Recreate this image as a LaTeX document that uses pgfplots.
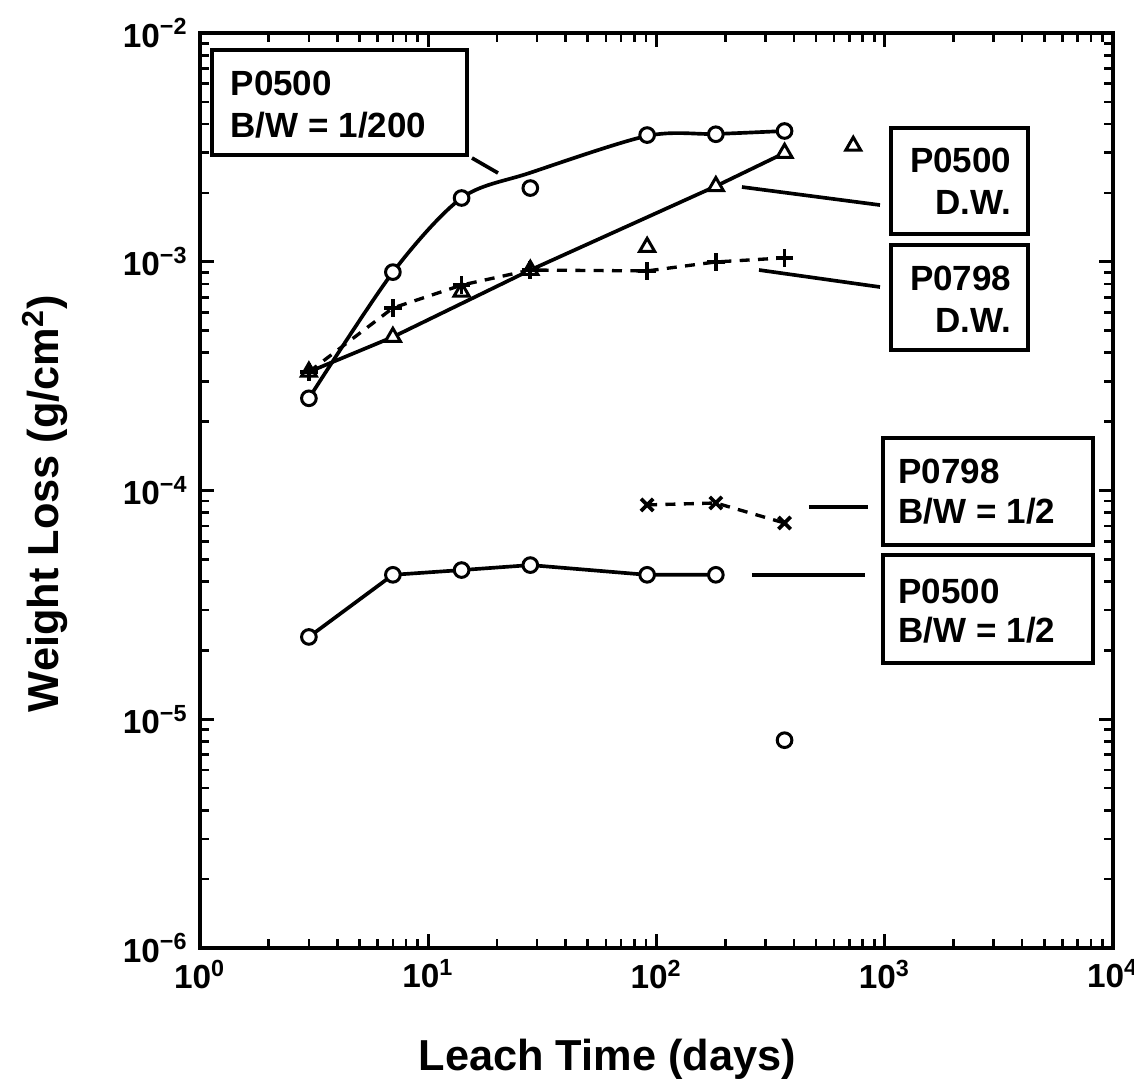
\documentclass[border=0pt]{standalone}
\usepackage{fontspec}
\setmainfont{Liberation Sans}
\usepackage{pgfplots}
\pgfplotsset{compat=1.18}

\begin{document}
\begin{tikzpicture}
\useasboundingbox (-60pt,-41.4pt) rectangle (280.2pt,284.4pt);
\begin{axis}[
    at={(0,0)}, anchor=south west,
    scale only axis,
    width=273.9pt, height=274.5pt,
    xmode=log, ymode=log,
    xmin=1, xmax=1e4, ymin=1e-6, ymax=1e-2,
    xtick={1,10,100,1000,10000},
    xticklabels={10\textsuperscript{0},10\textsuperscript{1},10\textsuperscript{2},10\textsuperscript{3},10\textsuperscript{4}},
    ytick={1e-6,1e-5,1e-4,1e-3,1e-2},
    yticklabels={10\textsuperscript{−6},10\textsuperscript{−5},10\textsuperscript{−4},10\textsuperscript{−3},10\textsuperscript{−2}},
    tick label style={font=\fontsize{10}{12}\selectfont\bfseries},
    axis line style={line width=1.2pt},
    every tick/.style={black, line width=0.8pt},
    xlabel={Leach Time (days)},
    ylabel={Weight Loss (g/cm\textsuperscript{2})},
    label style={font=\fontsize{13}{15}\selectfont\bfseries},
    xlabel style={at={(axis description cs:0.446,-0.122)}, anchor=center},
    ylabel style={at={(axis description cs:-0.170,0.486)}, anchor=center},
]

% P0500 B/W=1/200 (fitted curve + circles)
\addplot[black, smooth, line width=1.1pt] coordinates {
    (3,2.53e-4) (7,9.0e-4) (14,1.9e-3) (28,2.45e-3) (91,3.55e-3) (182,3.62e-3) (364,3.73e-3)
};
\addplot[black, only marks, mark=*, mark size=2.2pt, line width=0.9pt, mark options={fill=white}] coordinates {
    (3,2.53e-4) (7,9.01e-4) (14,1.90e-3) (28,2.10e-3) (91,3.58e-3) (182,3.61e-3) (364,3.73e-3)
};

% P0500 D.W. (line + triangles)
\addplot[black, line width=1.1pt] coordinates {
    (3,3.3e-4) (7,4.69e-4) (28,9.2e-4) (182,2.14e-3) (364,2.99e-3)
};
\addplot[black, only marks, mark=triangle*, mark size=2.6pt, line width=0.9pt, mark options={fill=white}] coordinates {
    (3,3.3e-4) (7,4.69e-4) (14,7.4e-4) (28,9.2e-4) (91,1.16e-3) (182,2.14e-3) (364,2.99e-3) (728,3.21e-3)
};

% P0798 D.W. (dashed + plus)
\addplot[black, line width=1.0pt, dash pattern=on 3pt off 2.5pt, mark=+, mark size=2.6pt, mark options={solid, line width=1.1pt}] coordinates {
    (3,3.3e-4) (7,6.28e-4) (14,7.91e-4) (28,9.2e-4) (91,9.12e-4) (182,9.98e-4) (364,1.04e-3)
};

% P0798 B/W=1/2 (dashed + x)
\addplot[black, line width=1.0pt, dash pattern=on 3pt off 2.5pt, mark=x, mark size=2.6pt, mark options={solid, line width=1.1pt}] coordinates {
    (91,8.65e-5) (182,8.82e-5) (364,7.21e-5)
};

% P0500 B/W=1/2 (line + circles)
\addplot[black, line width=1.1pt, mark=*, mark size=2.2pt, mark options={fill=white, line width=0.9pt}] coordinates {
    (3,2.29e-5) (7,4.28e-5) (14,4.49e-5) (28,4.72e-5) (91,4.28e-5) (182,4.28e-5)
};
\addplot[black, only marks, mark=*, mark size=2.2pt, line width=0.9pt, mark options={fill=white}] coordinates {
    (364,8.1e-6)
};

% label boxes
\draw[line width=1.2pt] (rel axis cs:0.0131,0.8667) rectangle (rel axis cs:0.2924,0.9814);
\node[anchor=west, align=left, inner sep=0pt, font=\fontsize{10.5}{12.6}\selectfont\bfseries]
    at (rel axis cs:0.0329,0.9213) {P0500\\B/W = 1/200};
\draw[line width=1.1pt] (rel axis cs:0.2979,0.8634) -- (rel axis cs:0.3264,0.8470);

\draw[line width=1.2pt] (rel axis cs:0.7568,0.7803) rectangle (rel axis cs:0.9069,0.8962);
\node[anchor=east, align=right, inner sep=0pt, font=\fontsize{10.5}{12.6}\selectfont\bfseries]
    at (rel axis cs:0.8894,0.8383) {P0500\\D.W.};
\draw[line width=1.1pt] (rel axis cs:0.5936,0.8317) -- (rel axis cs:0.7448,0.8120);

\draw[line width=1.2pt] (rel axis cs:0.7568,0.6536) rectangle (rel axis cs:0.9069,0.7683);
\node[anchor=east, align=right, inner sep=0pt, font=\fontsize{10.5}{12.6}\selectfont\bfseries]
    at (rel axis cs:0.8894,0.7093) {P0798\\D.W.};
\draw[line width=1.1pt] (rel axis cs:0.6123,0.7410) -- (rel axis cs:0.7448,0.7224);

\draw[line width=1.2pt] (rel axis cs:0.7480,0.4404) rectangle (rel axis cs:0.9780,0.5574);
\node[anchor=west, align=left, inner sep=0pt, font=\fontsize{10.5}{12}\selectfont\bfseries]
    at (rel axis cs:0.7645,0.4984) {P0798\\B/W = 1/2};
\draw[line width=1.1pt] (rel axis cs:0.6670,0.4820) -- (rel axis cs:0.7317,0.4820);

\draw[line width=1.2pt] (rel axis cs:0.7480,0.3118) rectangle (rel axis cs:0.9780,0.4295);
\node[anchor=west, align=left, inner sep=0pt, font=\fontsize{10.5}{11.5}\selectfont\bfseries]
    at (rel axis cs:0.7645,0.3683) {P0500\\B/W = 1/2};
\draw[line width=1.1pt] (rel axis cs:0.6046,0.4077) -- (rel axis cs:0.7284,0.4077);

\end{axis}
\end{tikzpicture}
\end{document}
